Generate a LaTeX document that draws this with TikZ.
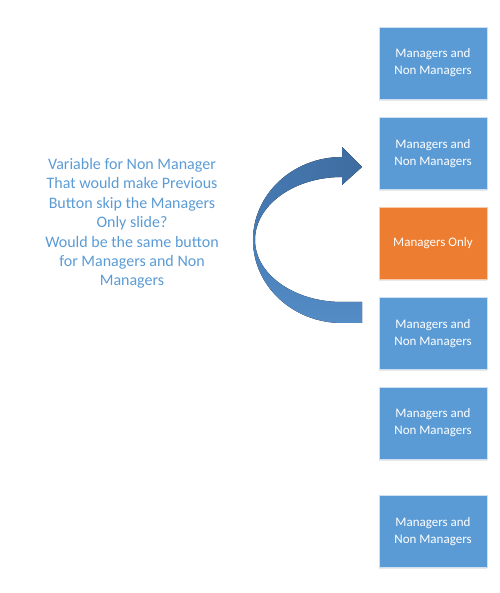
\documentclass[tikz,border=0pt]{standalone}
\usepackage{fontspec}
\setmainfont{Carlito}
\usetikzlibrary{shadows}
\definecolor{boxblue}{RGB}{91,155,213}
\definecolor{boxorange}{RGB}{237,125,49}
\definecolor{txtblue}{RGB}{91,155,213}
\definecolor{arrdark}{RGB}{62,108,160}
\definecolor{arrdark2}{RGB}{70,122,178}
\definecolor{arrlight}{RGB}{84,140,198}
\definecolor{arrlight2}{RGB}{72,126,184}
\tikzset{
  slide/.style={minimum width=108pt, minimum height=72pt, inner sep=0pt,
    draw=white!70!boxblue, line width=0.6pt, align=center, text=white,
    font=\fontsize{13}{17}\selectfont,
    drop shadow={shadow xshift=0pt, shadow yshift=-2pt, opacity=0.18}},
  blueslide/.style={slide, fill=boxblue},
  orangeslide/.style={slide, fill=boxorange, draw=white!60!boxorange},
  note/.style={align=center, text=txtblue, font=\fontsize{16}{19.4}\selectfont}
}
\begin{document}
\begin{tikzpicture}[x=1pt,y=1pt]
\useasboundingbox (0,0) rectangle (499,593);
\node[blueslide] (s1) at (433,530) {Managers and\\Non Managers};
\node[blueslide] (s2) at (433,439.5) {Managers and\\Non Managers};
\node[orangeslide] (s3) at (433,350) {Managers Only};
\node[blueslide] (s4) at (433,259.5) {Managers and\\Non Managers};
\node[blueslide] (s5) at (433,170) {Managers and\\Non Managers};
\node[blueslide] (s6) at (433,61.5) {Managers and\\Non Managers};
\node[note] (q) at (132,369.5) {Variable for Non Manager\\That would make Previous\\Button skip the Managers\\Only slide?\\Would be the same button\\for Managers and Non\\Managers};
% curved arrow: lower ribbon
\fill[top color=arrlight2, bottom color=arrlight]
  (253,353) arc[start angle=180, end angle=270, x radius=89, y radius=83]
  -- (362,270) -- (362,291) -- (342,291)
  arc[start angle=270, end angle=180, x radius=87, y radius=62] -- cycle;
% upper ribbon with head
\fill[left color=arrdark2, right color=arrdark]
  (253,353) arc[start angle=180, end angle=90, x radius=89, y radius=83]
  -- (342,446) -- (362,426) -- (342,408) -- (342,416)
  arc[start angle=90, end angle=180, x radius=87, y radius=63] -- cycle;
\end{tikzpicture}
\end{document}
